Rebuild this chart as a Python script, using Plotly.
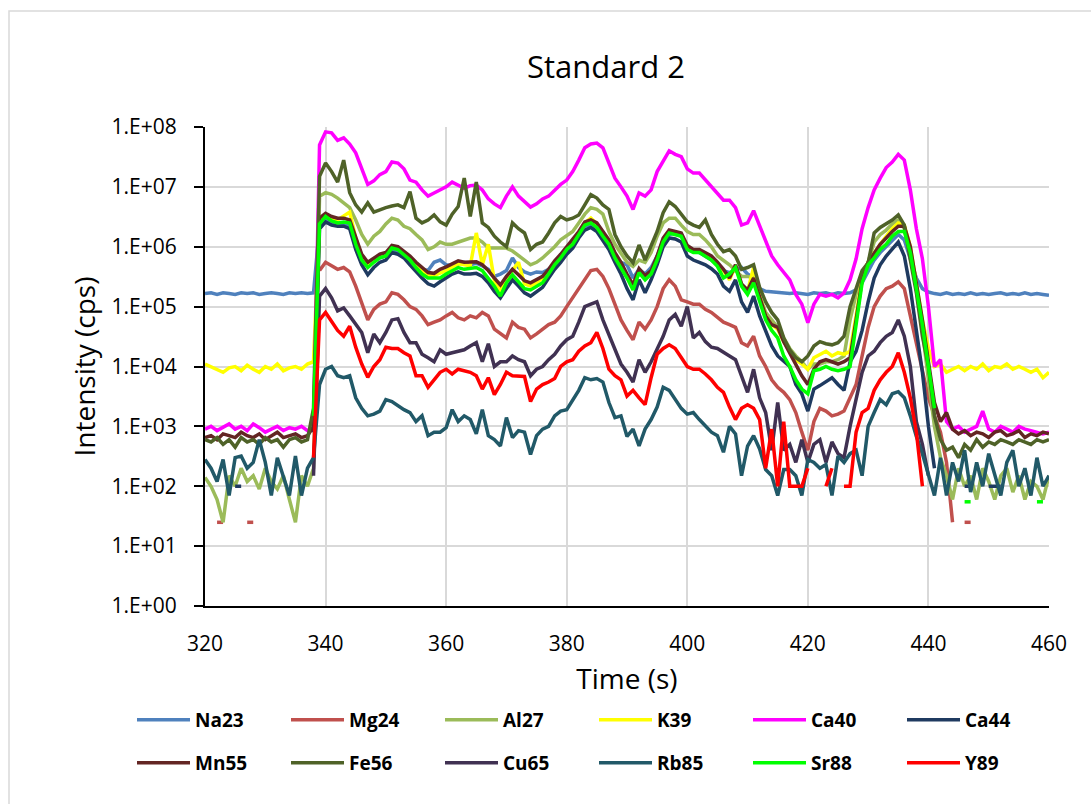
import plotly.graph_objects as go

time_s = list(range(320, 461))
N = None

na23 = [1.65e5, 1.7e5, 1.6e5, 1.7e5, 1.65e5, 1.6e5, 1.7e5, 1.65e5, 1.7e5, 1.6e5,
        1.65e5, 1.7e5, 1.65e5, 1.6e5, 1.7e5, 1.65e5, 1.7e5, 1.65e5, 1.7e5, 2.2e6,
        2.8e6, 2.6e6, 2.4e6, 2.5e6, 2.2e6, 1.1e6, 6.3e5, 5e5, 6e5, 6.5e5,
        7e5, 9e5, 8.5e5, 7.5e5, 6.3e5, 5e5, 4.2e5, 4e5, 5.5e5, 6e5,
        5e5, 4.8e5, 5.2e5, 5.5e5, 5e5, 5.3e5, 4.8e5, 4.2e5, 3.2e5, 3.5e5,
        4e5, 6.5e5, 4.5e5, 3.8e5, 3.5e5, 3.8e5, 3.7e5, 4.2e5, 5e5, 6.5e5,
        8e5, 1e6, 1.5e6, 2.2e6, 2.3e6, 2.1e6, 1.6e6, 1.1e6, 6.5e5, 5.5e5,
        5e5, 3e5, 4.2e5, 3.5e5, 4.5e5, 7e5, 1.3e6, 1.6e6, 1.7e6, 1.5e6,
        1e6, 8.5e5, 8e5, 7e5, 6e5, 5e5, 4e5, 3.7e5, 4e5, 4.5e5,
        3.5e5, 3e5, 2e5, 1.8e5, 1.75e5, 1.7e5, 1.7e5, 1.65e5, 1.7e5, 1.65e5,
        1.6e5, 1.7e5, 1.65e5, 1.7e5, 1.6e5, 1.7e5, 1.65e5, 1.7e5, 1.9e5, 2.5e5,
        4e5, 6e5, 8e5, 1e6, 1.3e6, 1.6e6, 1.3e6, 6e5, 3e5, 2e5,
        1.75e5, 1.65e5, 1.6e5, 1.7e5, 1.6e5, 1.65e5, 1.6e5, 1.7e5, 1.6e5, 1.65e5,
        1.6e5, 1.65e5, 1.7e5, 1.6e5, 1.65e5, 1.6e5, 1.7e5, 1.6e5, 1.65e5, 1.6e5,
        1.55e5]

mg24 = [N, N, 25, 25, N, N, N, 25, 25, N,
        N, N, N, N, N, N, N, N, N, 4e5,
        5.5e5, 4.8e5, 4.2e5, 4.5e5, 3.8e5, 2.2e5, 1.1e5, 6e4, 9e4, 1.1e5,
        1.2e5, 1.7e5, 1.6e5, 1.3e5, 1e5, 9e4, 7e4, 5e4, 5.5e4, 6e4,
        7e4, 8e4, 6.5e4, 6e4, 7e4, 6.5e4, 8e4, 7e4, 4.2e4, 3.5e4,
        3e4, 5.5e4, 4.5e4, 4.2e4, 3e4, 3.5e4, 4.2e4, 5e4, 5.5e4, 7e4,
        1e5, 1.4e5, 2e5, 2.8e5, 4e5, 4.2e5, 3.2e5, 2e5, 1.1e5, 6e4,
        4e4, 2.8e4, 5.5e4, 4.2e4, 6e4, 1e5, 2e5, 2.8e5, 2.2e5, 1.3e5,
        1.2e5, 1.1e5, 1.1e5, 9e4, 8e4, 6.5e4, 5.5e4, 5e4, 4.5e4, 2.5e4,
        2.2e4, 3.2e4, 1.5e4, 1e4, 6e3, 4.5e3, 3.7e3, 2.8e3, 1.7e3, 800,
        400, 1.2e3, 2e3, 1.8e3, 1.5e3, 1.6e3, 1.8e3, 3e3, 5e3, 1.5e4,
        4.5e4, 1e5, 1.5e5, 2e5, 2.2e5, 2.6e5, 2e5, 7e4, 2.5e4, 8e3,
        3e3, 1.5e3, 800, 250, 25, N, 25, 25, N, N,
        N, N, N, N, N, N, N, N, N, N,
        N]

al27 = [140, 100, 60, 25, 150, 100, 200, 120, 150, 90,
        200, 120, 90, 150, 60, 25, 150, 100, 200, 7e6,
        8e6, 7.5e6, 6.5e6, 5.5e6, 4.5e6, 2.8e6, 1.6e6, 1.1e6, 1.5e6, 1.8e6,
        2.4e6, 3e6, 2.8e6, 2.2e6, 2e6, 1.6e6, 1.3e6, 9e5, 1e6, 1.2e6,
        1.1e6, 1.1e6, 1.2e6, 1.3e6, 1.4e6, 1.4e6, 1.2e6, 9.5e5, 9.5e5, 9.5e5,
        9.5e5, 8.5e5, 7e5, 6e5, 5e5, 5.5e5, 6.5e5, 8e5, 1e6, 1.3e6,
        1.5e6, 1.8e6, 2.5e6, 3.5e6, 4.5e6, 4.2e6, 3.5e6, 1.8e6, 1.1e6, 8e5,
        5.5e5, 4.7e5, 6e5, 5.5e5, 8e5, 1.5e6, 2.5e6, 3e6, 3e6, 2.3e6,
        1.8e6, 1.6e6, 1.6e6, 1.3e6, 1e6, 7e5, 6e5, 5e5, 4e5, 3.2e5,
        3.2e5, 3e5, 1.5e5, 8e4, 6e4, 4.5e4, 3e4, 2e4, 1.5e4, 1.2e4,
        9e3, 1.1e4, 1.1e4, 1.2e4, 1.2e4, 1.3e4, 1.5e4, 6e4, 1.6e5, 3.5e5,
        5.5e5, 1.2e6, 1.6e6, 1.9e6, 2.4e6, 2.8e6, 2e6, 7e5, 2e5, 4e4,
        6e3, 1e3, 300, 150, 60, 200, 100, 150, 60, 200,
        120, 60, 150, 200, 80, 150, 60, 120, 100, 60,
        150]

k39 = [1.1e4, 1e4, 9e3, 8e3, 9.5e3, 1e4, 8.5e3, 1.05e4, 9e3, 8e3,
       1e4, 9e3, 1.1e4, 8.5e3, 9.5e3, 1e4, 9e3, 1.1e4, 1.2e4, 2.7e6,
       3.3e6, 2.9e6, 2.8e6, 3.3e6, 3.8e6, 1.4e6, 7e5, 5e5, 6e5, 7e5,
       7.5e5, 1e6, 9.5e5, 8e5, 6.5e5, 5e5, 4e5, 3.3e5, 3.3e5, 3.6e5,
       4e5, 4.6e5, 5.2e5, 5e5, 4.8e5, 1.7e6, 5e5, 1.1e6, 2.7e5, 1.9e5,
       3e5, 4e5, 5.5e5, 2.4e5, 2.2e5, 2.5e5, 3e5, 4e5, 5.5e5, 7e5,
       9.5e5, 1.2e6, 1.7e6, 2.5e6, 3e6, 2.4e6, 1.7e6, 1.2e6, 7.5e5, 5e5,
       3.3e5, 2.1e5, 4e5, 3e5, 3.8e5, 6.5e5, 1.3e6, 1.8e6, 1.7e6, 1.6e6,
       1e6, 8.5e5, 8.5e5, 7.5e5, 6.5e5, 5e5, 4e5, 2.8e5, 4.8e5, 2.3e5,
       1.8e5, 4.5e5, 1.5e5, 7e4, 5e4, 4.2e4, 2.6e4, 1.8e4, 1.3e4, 1.1e4,
       9e3, 1.4e4, 1.6e4, 1.8e4, 1.5e4, 1.7e4, 1.6e4, 1.8e4, 7e4, 3e5,
       5.5e5, 8e5, 1.1e6, 1.5e6, 2e6, 2.5e6, 2.3e6, 1e6, 2.5e5, 6e4,
       2e4, 1e4, 1.1e4, 8e3, 9e3, 1e4, 8.5e3, 1e4, 9e3, 1.1e4,
       8.5e3, 1e4, 9.5e3, 1.1e4, 9e3, 1e4, 9e3, 8e3, 9e3, 6.5e3,
       8e3]

ca40 = [900, 1000, 850, 950, 1100, 900, 1000, 850, 1100, 950,
        800, 900, 1000, 850, 950, 900, 1000, 850, 900, 5e7,
        8.3e7, 8e7, 6e7, 6.6e7, 5.2e7, 3.7e7, 2e7, 1.1e7, 1.26e7, 1.6e7,
        1.8e7, 2.6e7, 2.5e7, 2e7, 1.3e7, 1.2e7, 8.9e6, 7e6, 7.9e6, 8.9e6,
        1e7, 1.2e7, 1.05e7, 9.5e6, 1.05e7, 1.07e7, 8.9e6, 6.3e6, 5.2e6, 4.5e6,
        7e6, 1e7, 7e6, 5.6e6, 4.6e6, 5.2e6, 6.3e6, 7e6, 8.9e6, 1.1e7,
        1.3e7, 1.8e7, 2.8e7, 4.5e7, 5.2e7, 5.4e7, 4.5e7, 2.5e7, 1.4e7, 1e7,
        7e6, 4.2e6, 7.9e6, 7e6, 8.9e6, 1.8e7, 2.6e7, 4e7, 3.5e7, 3.2e7,
        2e7, 1.7e7, 1.7e7, 1.3e7, 1e7, 8e6, 6e6, 6e6, 4.5e6, 2.3e6,
        2.5e6, 4e6, 2.2e6, 1.3e6, 7e5, 5e5, 3.7e5, 2.8e5, 1.6e5, 1.1e5,
        5.4e4, 1.1e5, 1.6e5, 1.5e5, 1.6e5, 1.4e5, 1.7e5, 2.8e5, 6.3e5, 2e6,
        4.5e6, 8.9e6, 1.4e7, 2.1e7, 2.6e7, 3.5e7, 2.8e7, 8.9e6, 2e6, 6.3e5,
        1e5, 1e4, 1.3e4, 1.2e3, 900, 1000, 800, 900, 1000, 1800,
        900, 800, 1000, 900, 800, 1000, 900, 850, 800, 750,
        800]

ca44 = [N, N, N, N, N, 100, 100, N, N, N,
        N, N, N, N, N, N, N, N, 800, 2e6,
        2.6e6, 2.3e6, 2.2e6, 2.2e6, 2e6, 9e5, 5e5, 3.4e5, 4.5e5, 5.5e5,
        6e5, 8e5, 7.5e5, 6.5e5, 5e5, 3.8e5, 3e5, 2.4e5, 2.2e5, 2.6e5,
        3e5, 3.5e5, 3.8e5, 3.5e5, 3.5e5, 3.6e5, 3.2e5, 2.5e5, 1.8e5, 1.4e5,
        2e5, 2.8e5, 2.2e5, 1.7e5, 1.5e5, 1.8e5, 2.1e5, 3e5, 4.2e5, 5.5e5,
        7.5e5, 9.5e5, 1.4e6, 1.9e6, 2.1e6, 1.8e6, 1.3e6, 9e5, 5.5e5, 3.5e5,
        2e5, 1.3e5, 2.8e5, 1.7e5, 2.8e5, 5e5, 1e6, 1.4e6, 1.35e6, 1.2e6,
        7e5, 6e5, 5.5e5, 5e5, 4.3e5, 3.5e5, 2.2e5, 1.8e5, 2.8e5, 1.2e5,
        8e4, 1.5e5, 7e4, 4e4, 2.2e4, 1.5e4, 1.2e4, 1e4, 5e3, 3.5e3,
        1.8e3, 4.2e3, 4.8e3, 5.5e3, 6.5e3, 5e3, 4e3, 1.2e4, 1.8e4, 4e4,
        1.2e5, 3e5, 5e5, 7e5, 9e5, 1.2e6, 7e5, 2e5, 4e4, 8e3,
        1e3, 200, N, N, N, N, 100, 100, N, N,
        100, 100, 100, N, N, N, N, N, N, N,
        N]

mn55 = [650, 700, 600, 750, 700, 650, 800, 700, 650, 750,
        600, 700, 800, 650, 700, 750, 650, 700, 1000, 3e6,
        3.6e6, 3.2e6, 3e6, 3e6, 2.8e6, 1.4e6, 7.5e5, 5.5e5, 6.5e5, 7.5e5,
        8e5, 1.05e6, 1e6, 8.5e5, 7e5, 5.5e5, 4.5e5, 3.7e5, 3.6e5, 4.2e5,
        4.6e5, 5.2e5, 5.8e5, 5.5e5, 5.5e5, 5.6e5, 5e5, 4e5, 3e5, 2.3e5,
        3.2e5, 4.2e5, 3.4e5, 2.7e5, 2.5e5, 2.8e5, 3.2e5, 4.2e5, 5.8e5, 7.5e5,
        1e6, 1.3e6, 1.8e6, 2.6e6, 2.8e6, 2.5e6, 1.8e6, 1.3e6, 8e5, 5.5e5,
        3.5e5, 2.3e5, 4.3e5, 3.3e5, 4e5, 7e5, 1.4e6, 1.9e6, 1.8e6, 1.7e6,
        1.05e6, 9e5, 9e5, 8e5, 7e5, 5.5e5, 4.2e5, 3e5, 5e5, 2.4e5,
        1.9e5, 3e5, 1.5e5, 7e4, 5e4, 4.5e4, 2.6e4, 1.7e4, 1.1e4, 7e3,
        5e3, 9e3, 1.2e4, 1.3e4, 1.2e4, 1.1e4, 1.2e4, 1.4e4, 6e4, 2.8e5,
        5.5e5, 8e5, 1.1e6, 1.4e6, 1.8e6, 2.2e6, 2.2e6, 1e6, 2.5e5, 6e4,
        1.2e4, 2.5e3, 1.2e3, 1.7e3, 900, 750, 850, 700, 800, 750,
        650, 800, 850, 700, 750, 850, 650, 750, 700, 800,
        750]

fe56 = [600, 550, 650, 500, 600, 450, 650, 550, 600, 500,
        650, 550, 600, 450, 600, 650, 550, 600, 2000, 1.5e7,
        2.5e7, 1.8e7, 1.2e7, 2.8e7, 8e6, 5e6, 3.8e6, 5.4e6, 3.8e6, 4.2e6,
        4.5e6, 4.8e6, 5e6, 4.5e6, 8.3e6, 3e6, 2.5e6, 2.8e6, 3.4e6, 2.6e6,
        2.3e6, 3.5e6, 4.7e6, 1.4e7, 3.2e6, 1.2e7, 2.5e6, 2.1e6, 1.5e6, 1.2e6,
        1e6, 2.5e6, 2e6, 1.7e6, 9e5, 1.1e6, 1.2e6, 1.7e6, 2.5e6, 3.2e6,
        2.8e6, 3e6, 3.4e6, 5e6, 7.4e6, 6.5e6, 5e6, 4.2e6, 1.6e6, 1e6,
        7e5, 5.4e5, 1.07e6, 6e5, 1e6, 1.8e6, 3.7e6, 5.6e6, 4.7e6, 3.5e6,
        2.6e6, 2.3e6, 2.1e6, 2.8e6, 1.6e6, 1.1e6, 8.3e5, 9e5, 7e5, 4.2e5,
        4.5e5, 5e5, 2.1e5, 1.2e5, 8e4, 6e4, 3e4, 1.9e4, 1.4e4, 1.2e4,
        1.5e4, 2.2e4, 2.6e4, 2.4e4, 2.3e4, 2.5e4, 3.2e4, 1e5, 2.1e5, 4e5,
        5.4e5, 1.7e6, 2.1e6, 2.4e6, 2.8e6, 3.4e6, 2.3e6, 6e5, 1.7e5, 3.2e4,
        1e4, 1.5e3, 600, 400, 450, 300, 500, 400, 600, 450,
        550, 500, 600, 550, 500, 600, 550, 500, 600, 550,
        600]

cu65 = [N, N, N, N, N, N, N, N, N, N,
        N, N, N, N, N, N, N, N, 150, 1.5e5,
        2e5, 1.4e5, 8.5e4, 9.5e4, 7e4, 5e4, 3.7e4, 1.7e4, 3.5e4, 2.5e4,
        3.7e4, 6e4, 6.3e4, 3.7e4, 2.5e4, 2.5e4, 1.6e4, 1.4e4, 1.2e4, 1.9e4,
        1.6e4, 1.7e4, 1.8e4, 1.9e4, 2.2e4, 2.5e4, 1.2e4, 2.4e4, 1e4, 1.2e4,
        1.2e4, 1.5e4, 1.3e4, 1.2e4, 7e3, 9e3, 1e4, 1.3e4, 1.6e4, 2.2e4,
        2.8e4, 3.2e4, 5.5e4, 1e5, 1.1e5, 1.2e5, 6e4, 3.5e4, 2e4, 1.1e4,
        8e3, 5.5e3, 1.3e4, 8e3, 1.2e4, 1.9e4, 3.2e4, 6e4, 7.4e4, 4.7e4,
        1e5, 3e4, 3.7e4, 2.6e4, 2.1e4, 2e4, 1.7e4, 1.5e4, 1.3e4, 7e3,
        3.7e3, 9e3, 3e3, 1.7e3, 400, 2.5e3, 400, 500, 250, 600,
        250, 500, 600, 250, 550, 350, 300, 1e3, 3e3, 8e3,
        1.5e4, 1.8e4, 2.5e4, 3.2e4, 3.7e4, 6e4, 3.2e4, 1e4, 1.2e3, 500,
        150, N, N, N, N, N, N, N, N, N,
        N, N, N, N, N, N, N, N, N, N,
        N]

rb85 = [280, 200, 120, 280, 70, 300, 320, 200, 250, 600,
        250, 70, 300, 150, 70, 320, 70, 200, 300, 5e3,
        9e3, 1e4, 7e3, 6.5e3, 7e3, 3e3, 2e3, 1.5e3, 1.6e3, 1.8e3,
        2.8e3, 2.6e3, 2.2e3, 1.9e3, 1.7e3, 1.2e3, 1.5e3, 700, 800, 800,
        950, 1.9e3, 1.2e3, 1.5e3, 1.3e3, 750, 1.9e3, 700, 600, 470,
        1.4e3, 650, 850, 800, 340, 700, 900, 1e3, 1.5e3, 1.8e3,
        1.9e3, 2.8e3, 4e3, 6.5e3, 6e3, 6.3e3, 5.5e3, 2.5e3, 1.4e3, 1.5e3,
        680, 900, 470, 900, 1.3e3, 2.1e3, 4.5e3, 4e3, 2.8e3, 2e3,
        1.6e3, 1.7e3, 1.3e3, 1e3, 800, 700, 370, 1e3, 750, 150,
        470, 700, 420, 190, 150, 70, 190, 190, 150, 70,
        280, 250, 200, 230, 70, 320, 250, 350, 400, 150,
        1e3, 1.7e3, 2.8e3, 2.3e3, 3.5e3, 3.8e3, 3e3, 1.5e3, 680, 350,
        150, 70, 300, 70, 250, 120, 400, 80, 250, 100,
        350, 150, 70, 250, 400, 100, 200, 70, 300, 100,
        150]

sr88 = [N, N, N, N, N, N, N, N, N, N,
        N, N, N, N, N, N, N, N, 1.5e3, 2.4e6,
        3.2e6, 2.7e6, 2.5e6, 2.6e6, 2.5e6, 1.1e6, 6e5, 4.5e5, 5.5e5, 6.5e5,
        7e5, 9.5e5, 9e5, 7.5e5, 6e5, 4.5e5, 3.5e5, 3e5, 3e5, 3e5,
        3.5e5, 4e5, 4.5e5, 4.2e5, 4.3e5, 4.5e5, 4e5, 3e5, 2.2e5, 1.5e5,
        2.5e5, 3.4e5, 2.6e5, 2e5, 1.9e5, 2.2e5, 2.5e5, 3.5e5, 5e5, 6.5e5,
        9e5, 1.1e6, 1.6e6, 2.3e6, 2.5e6, 2.1e6, 1.5e6, 1.1e6, 6.5e5, 4.5e5,
        3e5, 1.9e5, 3.7e5, 2.8e5, 3.5e5, 6e5, 1.2e6, 1.7e6, 1.6e6, 1.5e6,
        9e5, 8e5, 8e5, 7e5, 6e5, 4.7e5, 3e5, 3.5e5, 4.5e5, 2.2e5,
        1.6e5, 2.5e5, 1.2e5, 6e4, 4e4, 3e4, 1.5e4, 1e4, 6e3, 4.2e3,
        3.5e3, 8.5e3, 9e3, 1e4, 9e3, 8.5e3, 9e3, 1e4, 5e4, 2.5e5,
        5e5, 6.5e5, 9e5, 1.1e6, 1.5e6, 1.8e6, 1.8e6, 8e5, 2e5, 5e4,
        1e4, 2e3, N, N, N, N, 55, 55, N, N,
        N, N, N, N, N, N, N, N, 55, 55,
        N]

y89 = [N, N, N, N, N, N, N, N, N, N,
       N, N, N, N, N, N, N, N, 300, 6e4,
       8e4, 5.5e4, 4e4, 3.2e4, 4.7e4, 2.1e4, 1.1e4, 6.6e3, 1e4, 1.3e4,
       2.1e4, 2e4, 2e4, 1.7e4, 1.5e4, 7e3, 7e3, 4.5e3, 6e3, 8e3,
       9e3, 7.5e3, 9e3, 8.5e3, 8e3, 7e3, 4.2e3, 6.5e3, 3.4e3, 5e3,
       8e3, 7e3, 7e3, 6.8e3, 2.6e3, 4.2e3, 5e3, 5.5e3, 6.3e3, 1e4,
       1.2e4, 1.3e4, 1.8e4, 2.2e4, 2.5e4, 3.7e4, 2e4, 9e3, 7e3, 6e3,
       3.2e3, 4e3, 3e3, 2.3e3, 6.5e3, 1.6e4, 2e4, 2.3e4, 2e4, 1.4e4,
       1e4, 9e3, 9e3, 7.5e3, 6e3, 4.5e3, 3.7e3, 2.1e3, 1.3e3, 2e3,
       2.3e3, 2e3, 1.3e3, 200, 900, 100, 1.2e3, 100, 100, 100,
       200, N, N, 100, 200, N, 100, 100, 800, 1.7e3,
       2e3, 4e3, 6e3, 8e3, 1e4, 1.7e4, 8e3, 3e3, 800, 100,
       N, N, N, N, N, N, N, N, N, N,
       N, N, N, N, N, N, N, N, N, N,
       N]

series_names = ["Na23", "Mg24", "Al27", "K39", "Ca40", "Ca44",
                "Mn55", "Fe56", "Cu65", "Rb85", "Sr88", "Y89"]
series_values = [na23, mg24, al27, k39, ca40, ca44,
                 mn55, fe56, cu65, rb85, sr88, y89]
series_colors = ["#4F81BD", "#C0504D", "#9BBB59", "#FFFF00", "#FF00FF", "#1F3A60",
                 "#632523", "#4F6228", "#403152", "#215968", "#00FF00", "#FF0000"]

x_ticks = [320, 340, 360, 380, 400, 420, 440, 460]
y_tickvals = [1, 10, 100, 1e3, 1e4, 1e5, 1e6, 1e7, 1e8]
y_ticktext = ["1.E+00", "1.E+01", "1.E+02", "1.E+03", "1.E+04",
              "1.E+05", "1.E+06", "1.E+07", "1.E+08"]

FONT = "Open Sans"

fig = go.Figure()
for i, (name, vals, col) in enumerate(zip(series_names, series_values, series_colors)):
    fig.add_trace(go.Scatter(
        x=time_s, y=vals, name=name, mode="lines",
        line=dict(color=col, width=3.5),
        legend="legend" if i < 6 else "legend2",
        connectgaps=False,
    ))

# plot area: x 205..1049, y 127..606
L, R, T, B = 205, 1049, 127, 606
W, H = R - L, B - T

def px_x(p):
    return (p - L) / W

def px_y(p):
    return (B - p) / H

legend_common = dict(
    orientation="h", xanchor="left", yanchor="middle",
    entrywidth=86, entrywidthmode="pixels", itemwidth=53,
    font=dict(family=FONT, size=19, color="black", weight="bold"),
    bgcolor="rgba(0,0,0,0)", borderwidth=0,
)

fig.update_layout(
    width=1091, height=804,
    margin=dict(l=L, r=1091 - R, t=T, b=804 - B, autoexpand=False),
    paper_bgcolor="white", plot_bgcolor="white",
    font=dict(family=FONT, color="black"),
    title=dict(text="Standard 2", font=dict(family=FONT, size=31, color="black"),
               xref="container", x=606 / 1091, xanchor="center",
               yref="container", y=1 - 67 / 804, yanchor="middle"),
    xaxis=dict(range=[320, 460], tickvals=x_ticks, showgrid=True,
               gridcolor="#D9D9D9", gridwidth=2, zeroline=False,
               showline=True, linecolor="black", linewidth=2, ticks="",
               ticklabelstandoff=18,
               tickfont=dict(family=FONT, size=21, color="black"),
               title=dict(text="Time (s)", font=dict(family=FONT, size=28, color="black"),
                          standoff=13)),
    yaxis=dict(type="log", range=[0, 8], tickvals=y_tickvals, ticktext=y_ticktext,
               showgrid=True, gridcolor="#D9D9D9", gridwidth=2, zeroline=False,
               showline=True, linecolor="black", linewidth=2,
               ticks="outside", ticklen=9, tickwidth=2, tickcolor="black",
               ticklabelstandoff=13,
               tickfont=dict(family=FONT, size=21, color="black"),
               title=dict(text="Intensity (cps)", font=dict(family=FONT, size=28, color="black"),
                          standoff=8)),
    legend=dict(x=px_x(132), y=px_y(720), **legend_common),
    legend2=dict(x=px_x(132), y=px_y(763), **legend_common),
    shapes=[dict(type="rect", xref="paper", yref="paper",
                 x0=px_x(9), x1=px_x(1300), y0=px_y(1000), y1=px_y(11),
                 line=dict(color="#D9D9D9", width=1.5), fillcolor="rgba(0,0,0,0)",
                 layer="below")],
)

fig.write_html("out.html")
